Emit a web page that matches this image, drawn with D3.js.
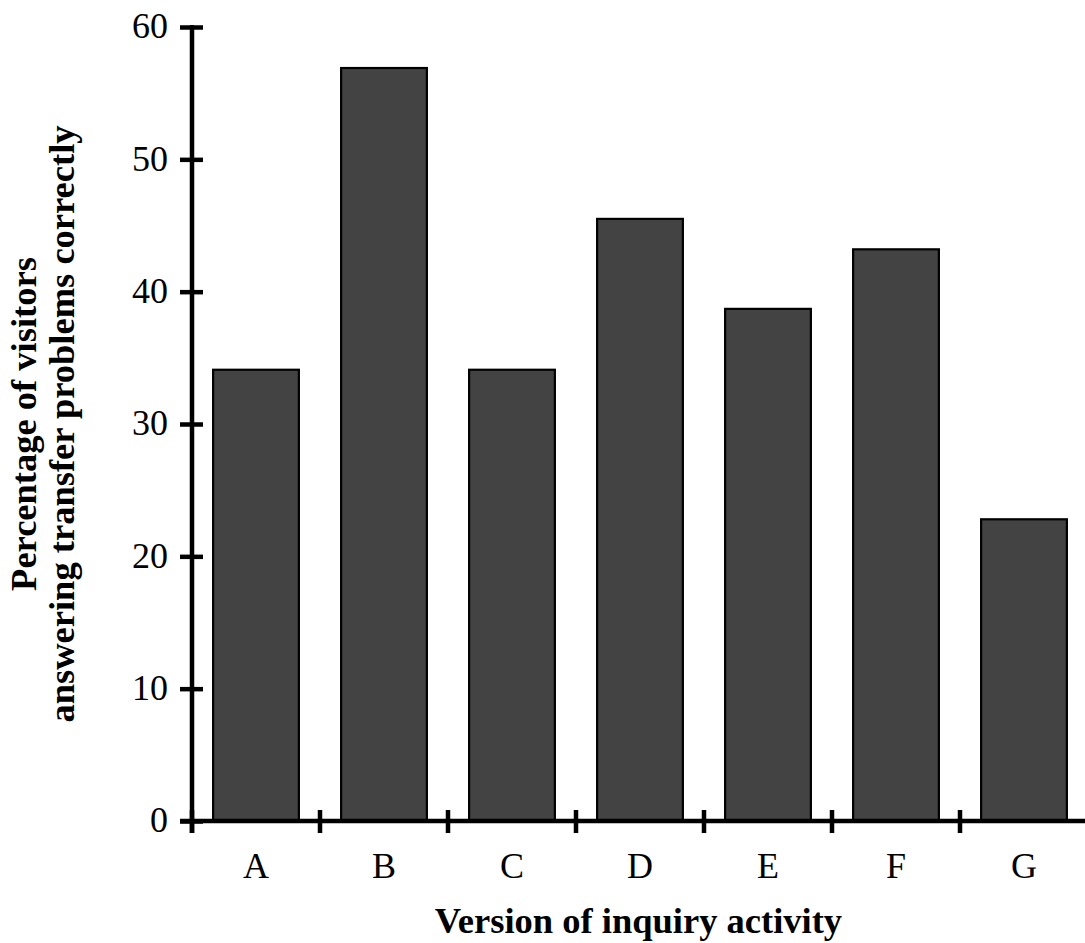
<!DOCTYPE html>
<html><head><meta charset="utf-8">
<script src="https://cdn.jsdelivr.net/npm/d3@7"></script>
<style>body{margin:0;background:#fff}svg{display:block}</style>
</head><body>
<svg id="c" width="1085" height="943"></svg>
<script>
const categories = ["A","B","C","D","E","F","G"];
const values = [34.1, 56.9, 34.1, 45.5, 38.7, 43.2, 22.8];
const yTicks = [0,10,20,30,40,50,60];
const xTitle = "Version of inquiry activity";
const yTitle = ["Percentage of visitors", "answering transfer problems correctly"];

const svg = d3.select("#c");
const x0 = 192, x1 = 1088, yTop = 27, yBot = 821;
const x = d3.scaleBand().domain(categories).range([x0, x1]).paddingInner(0.33).paddingOuter(0.165);
const y = d3.scaleLinear().domain([0, 60]).range([yBot, yTop]);
const font = "'Liberation Serif', 'Times New Roman', serif";

// bars
svg.append("g").selectAll("rect").data(values).join("rect")
  .attr("x", (d,i) => x(categories[i]))
  .attr("width", x.bandwidth())
  .attr("y", d => y(d))
  .attr("height", d => y(0) - y(d))
  .attr("fill", "#434343")
  .attr("stroke", "#000")
  .attr("stroke-width", 2.2);

// y axis
const ya = svg.append("g").attr("transform", `translate(${x0},0)`)
  .call(d3.axisLeft(y).tickValues(yTicks).tickSize(12).tickPadding(12).tickFormat(d3.format("d")));
ya.select(".domain").remove();
ya.selectAll(".tick line").attr("x1", 11).attr("x2", -12).attr("stroke","#000").attr("stroke-width", 4.5);
ya.selectAll(".tick text").attr("font-family", font).attr("font-size", 36).attr("fill","#000").attr("dy","0.3em");
svg.append("line").attr("x1", x0).attr("x2", x0).attr("y1", yTop - 2).attr("y2", 833)
  .attr("stroke","#000").attr("stroke-width", 4.5);

// x axis
svg.append("line").attr("x1", 180).attr("x2", 1085).attr("y1", yBot).attr("y2", yBot)
  .attr("stroke","#000").attr("stroke-width", 4.5);
const step = x.step();
const bounds = d3.range(categories.length).map(i => x0 + i * step);
svg.append("g").selectAll("line").data(bounds).join("line")
  .attr("x1", d => d).attr("x2", d => d).attr("y1", 810).attr("y2", 833)
  .attr("stroke","#000").attr("stroke-width", 4.5);
svg.append("g").selectAll("text").data(categories).join("text")
  .attr("x", d => x(d) + x.bandwidth()/2).attr("y", 878)
  .attr("text-anchor","middle").attr("font-family", font).attr("font-size", 36).text(d => d);

// titles
svg.append("text").attr("x", (x0 + 1085)/2).attr("y", 933)
  .attr("text-anchor","middle").attr("font-family", font).attr("font-weight","bold")
  .attr("font-size", 36.5).text(xTitle);
const yt = svg.append("text").attr("transform", `translate(0,${(yTop+yBot)/2}) rotate(-90)`)
  .attr("text-anchor","middle").attr("font-family", font).attr("font-weight","bold").attr("font-size", 36.5);
yt.append("tspan").attr("x", 0).attr("y", 36).text(yTitle[0]);
yt.append("tspan").attr("x", 0).attr("y", 74).text(yTitle[1]);
</script>
</body></html>
